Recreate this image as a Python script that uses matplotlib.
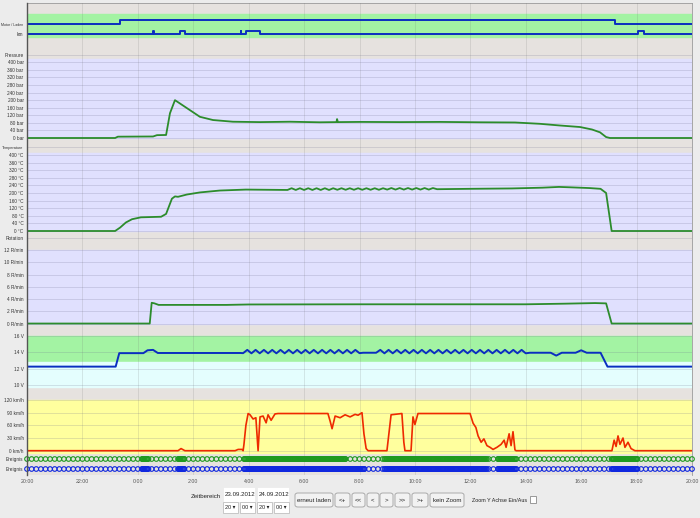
import numpy as np
import matplotlib
matplotlib.use("Agg")
from matplotlib import pyplot as plt
from matplotlib.patches import Rectangle, FancyBboxPatch
from matplotlib.lines import Line2D

# time axis: hours since 23.09.2012 20:00
hour_ticks = list(range(0, 25, 2))
hour_labels = ['20:00', '22:00', '0:00', '2:00', '4:00', '6:00', '8:00', '10:00',
               '12:00', '14:00', '16:00', '18:00', '20:00']

# Motor / Laden and km states (0/1)
motor_t = [0, 3.36, 3.36, 21.22, 21.22, 24]
motor_s = [0, 0, 1, 1, 0, 0]
km_t = [0, 4.53, 4.53, 4.57, 4.57, 5.52, 5.52, 5.70, 5.70, 7.71, 7.71, 7.74, 7.74,
        7.92, 7.92, 8.41, 8.41, 22.05, 22.05, 22.27, 22.27, 24]
km_s = [0, 0, 1, 1, 0, 0, 1, 1, 0, 0, 1, 1, 0, 0, 1, 1, 0, 0, 1, 1, 0, 0]

# Pressure (bar)
press_t = [0, 3.18, 3.28, 4.55, 4.69, 5.02, 5.16, 5.34, 5.77, 6.24, 6.71, 7.43, 8.41,
           9.49, 10.57, 11.17, 11.19, 11.22, 12.02, 13.46, 14.91, 16.35, 17.61, 18.51,
           19.24, 19.96, 20.39, 20.68, 20.90, 21.04, 24]
press_v = [0, 0, 7, 8, 15, 16, 131, 200, 158, 112, 95, 86, 84,
           86, 83, 84, 100, 84, 85, 84, 85, 83, 82, 75,
           66, 58, 45, 30, 5, 0, 0]

# Temperature (deg C)
temp_t = [0, 3.18, 3.36, 3.57, 3.79, 4.11, 4.84, 5.02, 5.23, 5.34, 5.45, 5.77, 6.24,
          6.96, 7.90, 9.40, 9.55, 9.70, 9.85, 10.00, 10.15, 10.30, 10.45, 10.60, 10.75,
          10.90, 11.05, 11.20, 11.35, 11.50, 11.65, 11.80, 11.95, 12.10, 12.25, 12.40,
          12.55, 12.70, 12.85, 13.00, 13.15, 13.30, 13.45, 13.60, 13.75, 13.90, 14.05,
          14.20, 14.35, 14.50, 14.65, 14.80, 16.0, 17.5, 18.6, 19.2, 19.6, 20.3, 20.7,
          20.9, 21.1, 24]
temp_v = [0, 0, 18, 45, 62, 72, 75, 90, 170, 182, 180, 192, 203,
          213, 218, 216, 225, 216, 225, 216, 225, 216, 225, 216, 225,
          216, 225, 217, 225, 217, 225, 217, 225, 217, 225, 217,
          225, 217, 225, 218, 226, 218, 226, 218, 226, 218, 226,
          218, 226, 218, 226, 220, 222, 224, 228, 232, 230, 226, 222,
          200, 0, 0]

# Rotation (R/min)
rot_t = [0, 4.43, 4.50, 4.60, 4.75, 7.2, 8.0, 12.0, 18.0, 19.4, 20.5, 20.9, 21.1, 24]
rot_v = [0, 0, 3.4, 3.3, 3.05, 3.05, 3.12, 3.15, 3.15, 3.25, 3.35, 3.3, 0, 0]

# Voltage (V)
volt_t = [0, 3.20, 3.33, 4.20, 4.35, 4.55, 4.72, 7.70,
          7.80, 7.95, 8.10, 8.25, 8.40, 8.55, 8.70, 8.85, 9.00, 9.15, 9.30, 9.45,
          9.60, 9.75, 9.90, 10.05, 10.20, 10.35, 10.50, 10.65, 10.80, 10.95, 11.10,
          11.25, 11.40, 11.55, 11.70, 11.85, 12.00, 12.13,
          12.60, 12.75, 12.90, 13.05, 13.20, 13.35, 13.50, 13.65, 13.80, 13.95, 14.10,
          14.25, 14.40, 14.55, 14.70, 14.85, 15.00, 15.15, 15.30, 15.45, 15.60, 15.75,
          15.90, 16.05, 16.20, 16.35, 16.50, 16.65, 16.80, 16.95, 17.10, 17.25, 17.40,
          17.55, 17.70, 17.85, 18.00, 18.15, 18.9, 19.1, 19.3, 19.8, 20.0, 20.2,
          20.7, 20.95, 24]
volt_v = [12.25, 12.25, 13.9, 13.9, 14.25, 14.3, 13.92, 13.92,
          13.9, 14.3, 13.88, 14.3, 13.88, 14.3, 13.88, 14.3, 13.88, 14.3, 13.88, 14.3,
          13.88, 14.3, 13.88, 14.3, 13.88, 14.3, 13.88, 14.3, 13.88, 14.3, 13.88,
          14.3, 13.88, 14.3, 13.88, 14.3, 13.9, 13.95,
          13.95, 14.3, 13.88, 14.3, 13.88, 14.3, 13.88, 14.3, 13.88, 14.3, 13.88,
          14.3, 13.88, 14.3, 13.88, 14.3, 13.88, 14.3, 13.88, 14.3, 13.88, 14.3,
          13.88, 14.3, 13.88, 14.3, 13.88, 14.3, 13.88, 14.3, 13.88, 14.3, 13.88,
          14.3, 13.88, 14.3, 13.88, 13.95, 13.95, 13.6, 13.95, 13.95, 14.25, 13.95,
          13.95, 12.25, 12.25]

# Speed (km/h)
speed_t = [0, 5.45, 5.56, 5.70, 7.51, 7.62, 7.76, 7.80, 7.83, 7.90, 7.98, 8.05, 8.16,
           8.26, 8.34, 8.41, 8.52, 8.63, 8.70, 8.81, 8.95, 9.06, 10.86, 10.94, 11.01,
           11.12, 11.30, 11.48, 11.66, 11.84, 11.95, 12.09, 12.16, 12.24, 12.31, 12.99,
           13.14, 13.53, 13.60, 13.64, 13.86, 13.93, 14.00, 14.11, 15.99, 16.10, 16.20,
           16.28, 16.39, 16.49, 16.60, 16.71, 16.82, 16.96, 17.11, 17.22, 17.29, 17.40,
           17.47, 17.54, 17.61, 17.65, 21.11, 21.19, 21.26, 21.33, 21.40, 21.51, 21.58,
           21.69, 21.80, 21.94, 24]
speed_v = [0, 0, 5, 0, 0, 3, 3, 0, 15, 60, 88, 85, 75,
           78, 0, 80, 82, 66, 85, 72, 87, 88, 88, 70, 52,
           82, 78, 85, 80, 86, 84, 90, 40, 5, 0, 0,
           85, 88, 20, 0, 0, 80, 62, 88, 88, 65, 55,
           35, 20, 28, 12, 8, 3, 8, 15, 25, 8, 40,
           12, 45, 2, 0, 0, 25, 10, 35, 15, 30, 8,
           20, 5, 0, 0]

# event log: regular entries every 10 min, dense entries every 2 min while driving
log_every = 1 / 6
dense_every = 1 / 30
green_dense = [(4.15, 4.40), (5.45, 5.70), (7.85, 11.50), (12.90, 16.60), (17.00, 17.65),
               (21.10, 22.05)]
blue_dense = [(4.15, 4.40), (5.45, 5.70), (7.85, 12.20), (12.90, 16.60), (17.00, 17.65),
              (21.10, 22.05)]

W, H = 700, 518
X0, X1 = 27, 692

GRAY = '#e6e2df'
LAVENDER = '#e0e0fe'
GREEN_BAND = '#a3f3a3'
CYAN_BAND = '#e4fefe'
YELLOW_BAND = '#ffff9e'
NARROW = ['Liberation Sans Narrow', 'Liberation Sans', 'DejaVu Sans']
LONG_LABELS = {'Motor / Laden': 2.6, 'Temperature': 2.8}

fig = plt.figure(figsize=(W / 100, H / 100), dpi=100)
fig.patch.set_facecolor('#ececec')


def fx(px):
    return px / W


def fy(py):
    return 1 - py / H


# background frame
frame = fig.add_axes([fx(X0), fy(475), (X1 - X0) / W, (475 - 3) / H])
frame.set_facecolor(GRAY)
frame.set_xlim(0, 24)
frame.set_ylim(0, 1)
frame.set_yticks([])
frame.set_xticks(hour_ticks)
frame.set_xticklabels(hour_labels, family=NARROW)
frame.tick_params(axis='x', length=0, labelsize=3.8, labelcolor='#555555', pad=3)
frame.spines['left'].set_visible(False)
for s in ['top', 'right']:
    frame.spines[s].set_color('#9a9a9a')
    frame.spines[s].set_linewidth(0.6)
frame.spines['bottom'].set_visible(False)


def panel(top, bottom, p_a, v_a, p_b, v_b, ticks, labels, hgrid=True):
    ax = fig.add_axes([fx(X0), fy(bottom), (X1 - X0) / W, (bottom - top) / H])
    k = (p_b - p_a) / (v_b - v_a)
    ax.set_ylim(v_a + (bottom - p_a) / k, v_a + (top - p_a) / k)
    ax.set_xlim(0, 24)
    ax.patch.set_alpha(0)
    for s in ax.spines.values():
        s.set_visible(False)
    ax.set_xticks([])
    ax.set_yticks(ticks)
    ax.set_yticklabels(labels, family=NARROW)
    ax.tick_params(axis='y', length=0, labelsize=3.4, labelcolor='#333333', pad=2.5)
    for lbl in ax.get_yticklabels():
        if lbl.get_text() in LONG_LABELS:
            lbl.set_fontsize(LONG_LABELS[lbl.get_text()])
    if hgrid:
        for t in ticks:
            ax.axhline(t, color='#6a6a8a', alpha=0.2, lw=0.7, zorder=1)
    for h in hour_ticks[1:-1]:
        ax.axvline(h, color='#707070', alpha=0.17, lw=0.7, zorder=1)
    return ax


# Motor / km
ax_m = panel(3, 45, 39, 0, 29, 1, [0.5, 1.5], ['km', 'Motor / Laden'], hgrid=False)
ax_m.axhspan(0.2, 2.5, color=GREEN_BAND, zorder=0)
ax_m.plot(motor_t, 1.5 + 0.4 * np.array(motor_s), color='#0a2ec0', lw=1.4, zorder=3)
ax_m.plot(km_t, 0.5 + 0.3 * np.array(km_s), color='#0a2ec0', lw=1.4, zorder=3)

# Pressure
ax_p = panel(45, 145, 138, 0, 62.3, 400, list(range(0, 441, 40)),
             ['%d bar' % v for v in range(0, 401, 40)] + ['Pressure'])
ax_p.axhspan(0, 420, color=LAVENDER, zorder=0)
ax_p.plot(press_t, press_v, color='#2c8c2c', lw=1.3, zorder=3)

# Temperature
ax_t = panel(145, 238, 231, 0, 155, 400, list(range(0, 441, 40)),
             ['%d °C' % v for v in range(0, 401, 40)] + ['Temperature'])
ax_t.axhspan(0, 410, color=LAVENDER, zorder=0)
ax_t.plot(temp_t, temp_v, color='#2c8c2c', lw=1.3, zorder=3)

# Rotation
ax_r = panel(238, 330, 323.3, 0, 247.3, 12, list(range(0, 15, 2)),
             ['%d R/min' % v for v in range(0, 13, 2)] + ['Rotation'])
ax_r.axhspan(0, 12.1, color=LAVENDER, zorder=0)
ax_r.plot(rot_t, rot_v, color='#2c8c2c', lw=1.3, zorder=3)

# Voltage
ax_v = panel(330, 393, 385, 10, 336, 16, [10, 12, 14, 16], ['10 V', '12 V', '14 V', '16 V'])
ax_v.axhspan(12.85, 16, color=GREEN_BAND, zorder=0)
ax_v.axhspan(9.7, 12.85, color=CYAN_BAND, zorder=0)
ax_v.plot(volt_t, volt_v, color='#0a2ec0', lw=1.4, zorder=3)

# Speed
ax_s = panel(393, 455, 450.7, 0, 400, 120, [0, 30, 60, 90, 120],
             ['0 km/h', '30 km/h', '60 km/h', '90 km/h', '120 km/h'])
ax_s.axhspan(-5, 121, color=YELLOW_BAND, zorder=0)
ax_s.plot(speed_t, speed_v, color='#ee2a00', lw=1.2, zorder=3)

# Events
ax_e = panel(455, 475, 469, 0, 459, 1, [0, 1], ['Ereignis', 'Ereignis'], hgrid=False)


def event_times(dense):
    times = list(np.arange(0, 24.001, log_every))
    for a, b in dense:
        times += list(np.arange(a, b, dense_every))
    return np.array(times)


gt = event_times(green_dense)
bt = event_times(blue_dense)
ax_e.scatter(gt, np.ones_like(gt), s=11, facecolors='none', edgecolors='#1f9a1f',
             linewidths=0.8, zorder=3, clip_on=False)
ax_e.scatter(bt, np.zeros_like(bt), s=11, facecolors='none', edgecolors='#1028e0',
             linewidths=0.8, zorder=3, clip_on=False)

# left axis line over all panels
fig.add_artist(Line2D([fx(X0), fx(X0)], [fy(3), fy(475)], transform=fig.transFigure,
                      color='#555555', lw=1.0, zorder=10))


# ---- controls below the chart ----
def box(x, y, w, h, fc='white', ec='#a8a8a8', rounded=False):
    if rounded:
        p = FancyBboxPatch((fx(x), fy(y + h)), w / W, h / H,
                           boxstyle='round,pad=0,rounding_size=0.004',
                           transform=fig.transFigure, fc=fc, ec=ec, lw=0.6)
    else:
        p = Rectangle((fx(x), fy(y + h)), w / W, h / H,
                      transform=fig.transFigure, fc=fc, ec=ec, lw=0.6)
    fig.add_artist(p)


def label(x, y, s, ha='center', size=4.4, color='#222222'):
    fig.text(fx(x), fy(y), s, ha=ha, va='center', fontsize=size, color=color,
             family=NARROW)


label(221, 497, 'Zeitbereich', ha='right')
for x0, date in [(223, '23.09.2012'), (257, '24.09.2012')]:
    box(x0, 487, 32, 15, fc='white', ec='#ececec')
    label(x0 + 1.5, 494, date, ha='left')
    box(x0, 502, 15, 11, fc='white', ec='#c0c0c0')
    label(x0 + 7, 507.5, '20 ▾', size=4.0)
    box(x0 + 17, 502, 15, 11, fc='white', ec='#c0c0c0')
    label(x0 + 24.5, 507.5, '00 ▾', size=4.0)

buttons = [(295, 333, 'erneut laden'), (335, 350, '<+'), (352, 365, '<<'), (367, 379, '<'),
           (380, 393, '>'), (395, 410, '>>'), (412, 428, '>+'), (430, 464, 'kein Zoom')]
for a, b, s in buttons:
    box(a, 493, b - a, 14, fc='#f2f2f2', ec='#a0a0a0', rounded=True)
    label((a + b) / 2, 500, s)

label(472, 500, 'Zoom Y Achse Ein/Aus', ha='left', size=3.9)
box(530, 496, 6, 7, fc='white', ec='#8a8a8a')

fig.savefig('out.png', dpi=100, facecolor=fig.get_facecolor())
